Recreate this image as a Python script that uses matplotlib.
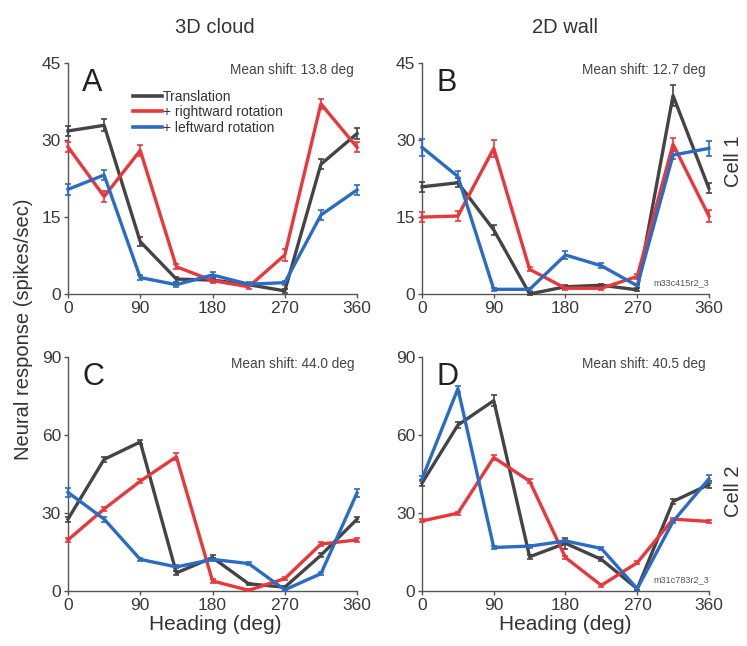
import numpy as np
import matplotlib
matplotlib.use("Agg")
import matplotlib.pyplot as plt
from matplotlib.lines import Line2D

plt.rcParams['font.family'] = ['Liberation Sans', 'DejaVu Sans']

heading = [0, 45, 90, 135, 180, 225, 270, 315, 360]

# Cell 1, 3D cloud (A)
a_trans = [31.8, 32.9, 10.2, 2.9, 2.7, 1.8, 0.6, 25.3, 31.3]
a_right = [28.7, 19.0, 28.0, 5.3, 2.6, 1.4, 7.6, 37.1, 28.6]
a_left = [20.4, 23.2, 3.2, 1.8, 3.7, 1.9, 2.2, 15.4, 20.3]
# Cell 1, 2D wall (B)
b_trans = [20.9, 21.7, 12.5, 0.0, 1.4, 1.7, 0.8, 38.7, 20.6]
b_right = [15.0, 15.2, 28.4, 4.8, 1.1, 1.1, 3.4, 29.2, 15.2]
b_left = [28.6, 22.9, 0.9, 0.9, 7.6, 5.5, 1.6, 27.1, 28.4]
# Cell 2, 3D cloud (C)
c_trans = [27.7, 50.7, 57.4, 7.0, 12.9, 2.8, 1.5, 13.8, 27.7]
c_right = [19.7, 31.6, 42.3, 51.7, 3.9, 0.3, 4.8, 18.1, 19.7]
c_left = [38.0, 27.7, 12.2, 9.3, 12.2, 10.6, 0.5, 6.7, 37.8]
# Cell 2, 2D wall (D)
d_trans = [41.6, 63.9, 73.3, 13.2, 18.4, 12.2, 0.9, 34.5, 41.0]
d_right = [27.0, 30.0, 51.4, 42.3, 12.9, 2.2, 10.9, 27.7, 26.8]
d_left = [43.2, 77.9, 16.8, 17.3, 19.3, 16.4, 0.9, 26.8, 43.2]

# standard errors
a_err = [[1.0, 1.2, 0.9, 0.5, 0.4, 0.3, 0.4, 1.0, 1.0],
         [1.0, 1.0, 1.1, 0.5, 0.4, 0.4, 1.2, 1.0, 1.0],
         [1.0, 1.0, 0.4, 0.5, 0.5, 0.4, 0.4, 0.9, 1.0]]
b_err = [[1.0, 0.9, 1.0, 0.3, 0.4, 0.3, 0.3, 2.0, 1.0],
         [1.0, 1.0, 1.6, 0.4, 0.4, 0.4, 0.5, 1.2, 1.1],
         [1.6, 1.0, 0.3, 0.3, 0.8, 0.5, 0.4, 0.8, 1.5]]
c_err = [[1.0, 1.0, 0.8, 0.8, 0.8, 0.5, 0.5, 0.8, 1.0],
         [0.8, 0.8, 0.8, 1.4, 0.6, 0.4, 0.6, 0.8, 0.8],
         [1.6, 1.0, 0.6, 0.6, 0.6, 0.6, 0.5, 0.6, 1.6]]
d_err = [[1.2, 1.2, 2.0, 0.8, 2.2, 0.8, 0.6, 0.8, 1.2],
         [0.6, 0.6, 0.8, 0.8, 0.6, 0.5, 0.6, 0.6, 0.6],
         [1.0, 1.2, 0.6, 0.6, 0.6, 0.6, 0.6, 0.6, 1.6]]

panels = [
    ("A", [a_trans, a_right, a_left], a_err, 45, "Mean shift: 13.8 deg", None),
    ("B", [b_trans, b_right, b_left], b_err, 45, "Mean shift: 12.7 deg", "m33c415r2_3"),
    ("C", [c_trans, c_right, c_left], c_err, 90, "Mean shift: 44.0 deg", None),
    ("D", [d_trans, d_right, d_left], d_err, 90, "Mean shift: 40.5 deg", "m31c783r2_3"),
]
labels = ["Translation", "+ rightward rotation", "+ leftward rotation"]
colors = ["#444444", "#e8383c", "#2a6cc4"]

fig = plt.figure(figsize=(7.47, 6.46), dpi=100)
boxes = [[0.091, 0.545, 0.387, 0.357],
         [0.565, 0.545, 0.384, 0.357],
         [0.091, 0.085, 0.387, 0.362],
         [0.565, 0.085, 0.384, 0.362]]

axes = []
for box, (letter, series, errs, ymax, shift, tag) in zip(boxes, panels):
    ax = fig.add_axes(box)
    axes.append(ax)
    for y, e, c in zip(series, errs, colors):
        ax.errorbar(heading, y, yerr=e, color=c, lw=2.4, capsize=2,
                    elinewidth=1.2, capthick=1.2, zorder=3, clip_on=False)
    ax.set_xlim(0, 360)
    ax.set_ylim(0, ymax)
    ax.set_xticks([0, 90, 180, 270, 360])
    ax.set_yticks(np.linspace(0, ymax, 4))
    for s in ["top", "right"]:
        ax.spines[s].set_visible(False)
    for s in ["left", "bottom"]:
        ax.spines[s].set_color("#555555")
        ax.spines[s].set_linewidth(1.0)
    ax.tick_params(direction="out", length=3, width=1, colors="#555555",
                   labelcolor="#3a3a3a", labelsize=12.5, pad=2)
    ax.text(0.05, 0.98, letter, transform=ax.transAxes, fontsize=22,
            va="top", ha="left", color="#222222")
    ax.text(0.99, 1.0, shift, transform=ax.transAxes, fontsize=9.8,
            va="top", ha="right", color="#444444")
    if tag:
        ax.text(1.0, 0.03, tag, transform=ax.transAxes, fontsize=6.6,
                va="bottom", ha="right", color="#555555")

handles = [Line2D([], [], color=c, lw=2.6) for c in colors]
leg = axes[0].legend(handles, labels, loc="upper left", bbox_to_anchor=(0.2, 0.915),
                     frameon=False, fontsize=10, handlelength=2.1,
                     handletextpad=0.05, labelspacing=0.1, borderpad=0)
for t in leg.get_texts():
    t.set_color("#333333")

fig.text(0.288, 0.958, "3D cloud", fontsize=14.5, ha="center", va="center", color="#333333")
fig.text(0.757, 0.958, "2D wall", fontsize=14.5, ha="center", va="center", color="#333333")
fig.text(0.031, 0.49, "Neural response (spikes/sec)", fontsize=14.5, rotation=90,
         ha="center", va="center", color="#333333")
fig.text(0.288, 0.033, "Heading (deg)", fontsize=15, ha="center", va="center", color="#333333")
fig.text(0.757, 0.033, "Heading (deg)", fontsize=15, ha="center", va="center", color="#333333")
fig.text(0.982, 0.75, "Cell 1", fontsize=14.5, rotation=90, ha="center", va="center", color="#333333")
fig.text(0.982, 0.24, "Cell 2", fontsize=14.5, rotation=90, ha="center", va="center", color="#333333")

fig.savefig("out.png", dpi=100)
